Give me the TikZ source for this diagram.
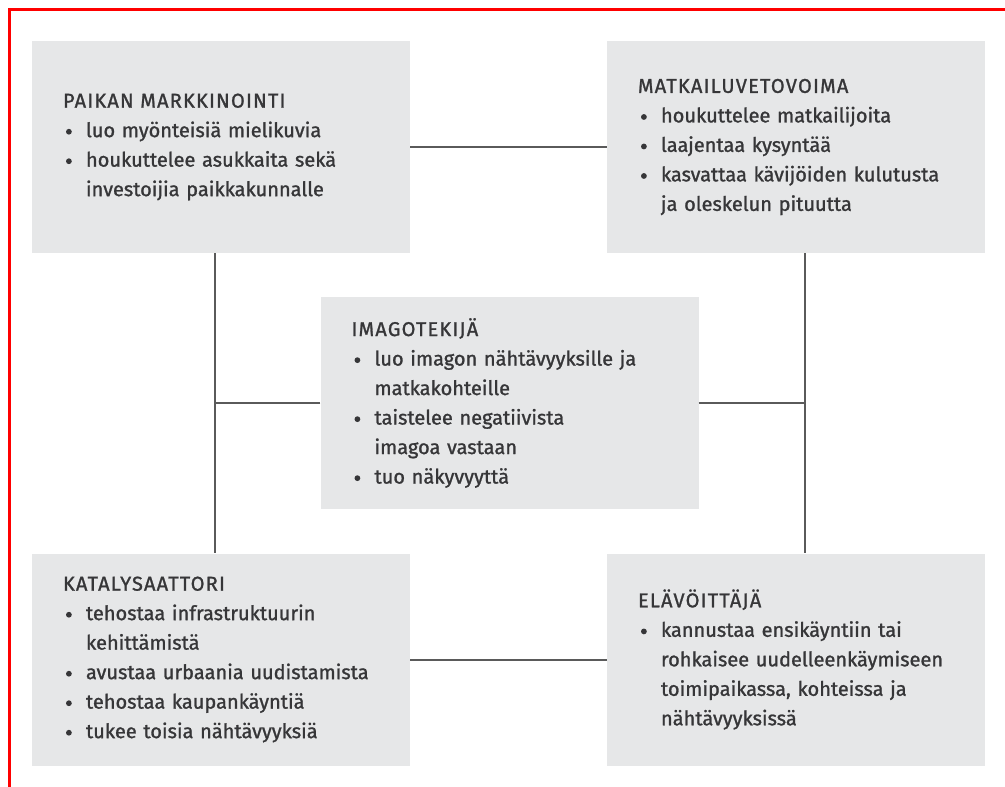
\documentclass[tikz,border=0pt]{standalone}
\usepackage{fontspec}
\setmainfont{Fira Sans}[FakeBold=1.2]
\usetikzlibrary{calc}
\definecolor{boxfill}{HTML}{E6E7E8}
\definecolor{txt}{HTML}{363638}
\definecolor{conn}{HTML}{5A5A5A}
\newcommand{\bul}{\hspace*{3pt}\makebox[20pt][l]{\tikz[baseline=0pt]\fill[txt] (2.9pt,5.4pt) circle (2.9pt);}}
\newcommand{\ind}{\hspace*{23pt}}
\newcommand{\ttl}[1]{{\addfontfeatures{LetterSpace=6}#1}}
\tikzset{
  box/.style={fill=boxfill, draw=none, minimum width=378pt, minimum height=212pt,
    inner xsep=31pt, inner ysep=0pt, text width=316pt, align=left, text=txt,
    font=\fontsize{20}{29.5}\selectfont},
  conline/.style={draw=conn, line width=2pt},
  frame/.style={draw=red, line width=3pt}
}
\begin{document}
\begin{tikzpicture}[x=1pt,y=-1pt]
\useasboundingbox (0,0) rectangle (1005,787);
\draw[frame] (1005,9.5) -- (9.5,9.5) -- (9.5,787);
\coordinate (vl) at (215,0);
\coordinate (vr) at (805,0);
\node[box] (tl) at (221,147) {\ttl{PAIKAN MARKKINOINTI}\\
\bul luo myönteisiä mielikuvia\\
\bul houkuttelee asukkaita sekä\\
\ind investoijia paikkakunnalle};
\node[box] (tr) at (796,147) {\ttl{MATKAILUVETOVOIMA}\\
\bul houkuttelee matkailijoita\\
\bul laajentaa kysyntää\\
\bul kasvattaa kävijöiden kulutusta\\
\ind ja oleskelun pituutta};
\node[box] (c) at (509.5,403) {\ttl{IMAGOTEKIJÄ}\\
\bul luo imagon nähtävyyksille ja\\
\ind matkakohteille\\
\bul taistelee negatiivista\\
\ind imagoa vastaan\\
\bul tuo näkyvyyttä};
\node[box] (bl) at (221,659.5) {\ttl{KATALYSAATTORI}\\
\bul tehostaa infrastruktuurin\\
\ind kehittämistä\\
\bul avustaa urbaania uudistamista\\
\bul tehostaa kaupankäyntiä\\
\bul tukee toisia nähtävyyksiä};
\node[box] (br) at (796,659.5) {\ttl{ELÄVÖITTÄJÄ}\\
\bul kannustaa ensikäyntiin tai\\
\ind rohkaisee uudelleenkäymiseen\\
\ind toimipaikassa, kohteissa ja\\
\ind nähtävyyksissä};
\draw[conline] (tl.east) -- (tr.west);
\draw[conline] (bl.east) -- (br.west);
\draw[conline] (tl.south -| vl) -- (bl.north -| vl);
\draw[conline] (tr.south -| vr) -- (br.north -| vr);
\draw[conline] (c.west) -- (c.west -| vl);
\draw[conline] (c.east) -- (c.east -| vr);
\end{tikzpicture}
\end{document}
